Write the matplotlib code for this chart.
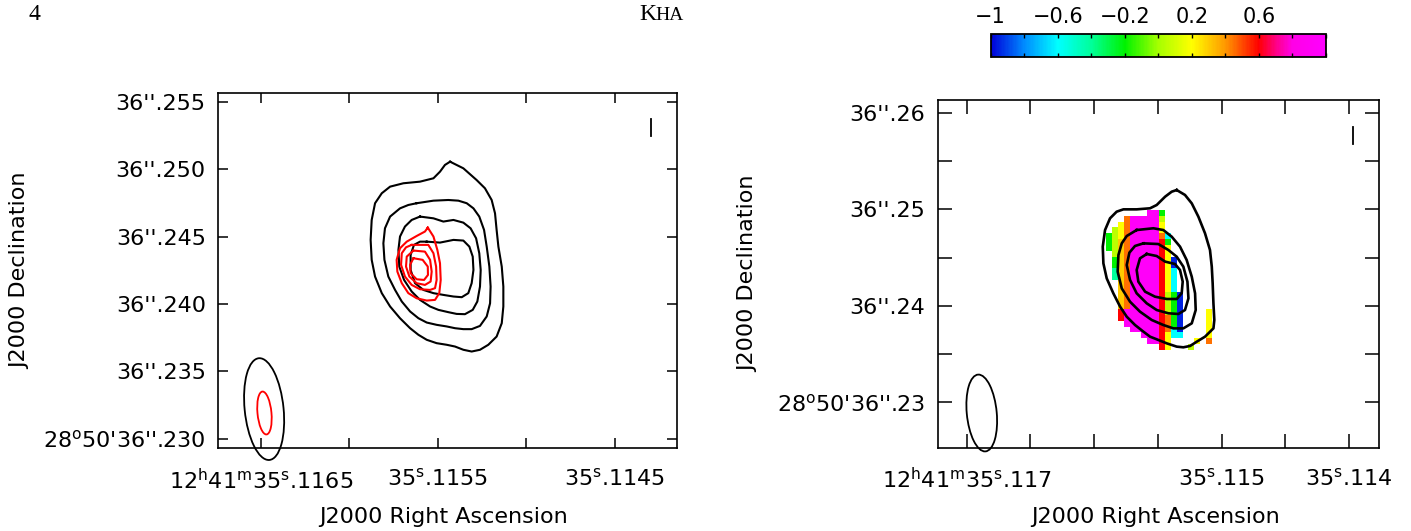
import numpy as np
import matplotlib
matplotlib.use('Agg')
from matplotlib import pyplot as plt
from matplotlib.patches import Ellipse
from matplotlib.colors import LinearSegmentedColormap
from matplotlib.ticker import FixedLocator, FixedFormatter, NullLocator

# positions: RA offset in units of 1e-4 s from 12h41m35.11s,
#            Dec offset in mas from +28d50'36.2"

# ---- left panel: black contours (outer -> inner)
left_black = [
    [(54.30, 50.55), (53.55, 50.06), (52.80, 49.19), (52.33, 48.58), (51.95, 47.71), (51.76, 46.72),
     (51.67, 45.49), (51.57, 44.25), (51.38, 42.77), (51.29, 41.29), (51.29, 39.81), (51.38, 38.57),
     (51.67, 37.58), (52.14, 36.97), (52.61, 36.60), (53.08, 36.47), (53.55, 36.60), (54.02, 36.84),
     (54.49, 36.97), (55.06, 37.09), (55.62, 37.34), (56.09, 37.71), (56.56, 38.20), (57.13, 38.94),
     (57.69, 39.81), (58.16, 40.80), (58.54, 42.03), (58.73, 43.27), (58.79, 44.75), (58.73, 46.23),
     (58.54, 47.47), (58.16, 48.21), (57.69, 48.70), (56.94, 48.95), (56.00, 49.07), (55.24, 49.32),
     (54.87, 49.81), (54.59, 50.31)],
    [(56.19, 47.47), (55.24, 47.66), (54.40, 47.71), (53.83, 47.66), (53.36, 47.47), (52.98, 47.09),
     (52.65, 46.48), (52.38, 45.49), (52.23, 44.25), (52.08, 42.77), (52.01, 41.29), (52.04, 40.05),
     (52.23, 39.07), (52.61, 38.37), (53.08, 38.13), (53.55, 38.13), (54.02, 38.20), (54.49, 38.33),
     (55.06, 38.45), (55.62, 38.62), (56.09, 38.94), (56.56, 39.44), (57.03, 40.18), (57.41, 41.04),
     (57.79, 42.03), (58.01, 43.27), (58.07, 44.50), (57.98, 45.61), (57.69, 46.48), (57.13, 47.09),
     (56.66, 47.34)],
    [(56.00, 46.48), (55.24, 46.35), (54.68, 46.11), (54.11, 46.23), (53.55, 46.03), (53.14, 45.61),
     (52.83, 44.87), (52.65, 43.76), (52.57, 42.52), (52.61, 41.29), (52.76, 40.18), (53.02, 39.56),
     (53.46, 39.24), (53.93, 39.26), (54.40, 39.39), (54.96, 39.56), (55.43, 39.81), (56.00, 40.30),
     (56.47, 40.92), (56.90, 41.78), (57.17, 42.77), (57.22, 44.01), (57.13, 45.00), (56.85, 45.74),
     (56.47, 46.23)],
    [(55.62, 44.62), (54.87, 44.55), (54.11, 44.75), (53.55, 44.70), (53.21, 44.25), (53.02, 43.51),
     (52.98, 42.52), (53.08, 41.54), (53.27, 40.80), (53.64, 40.50), (54.11, 40.55), (54.68, 40.67),
     (55.24, 40.80), (55.81, 41.04), (56.28, 41.54), (56.53, 42.52), (56.53, 43.64), (56.34, 44.38),
     (56.00, 44.62)],
]

# ---- left panel: red contours (outer -> inner)
left_red = [
    [(55.56, 45.66), (55.24, 45.00), (55.02, 44.01), (54.87, 43.02), (54.83, 41.78), (54.91, 40.80),
     (55.15, 40.30), (55.62, 40.25), (56.19, 40.42), (56.66, 40.80), (57.03, 41.54), (57.28, 42.40),
     (57.32, 43.27), (57.13, 44.13), (56.75, 44.62), (56.19, 45.04), (55.72, 45.37)],
    [(56.47, 44.38), (55.53, 44.38), (55.24, 43.76), (55.09, 42.77), (55.06, 41.78), (55.15, 41.17),
     (55.43, 41.04), (56.00, 41.09), (56.47, 41.41), (56.85, 42.03), (57.07, 42.90), (57.03, 43.76),
     (56.79, 44.20)],
    [(56.37, 43.96), (55.72, 43.88), (55.43, 43.27), (55.34, 42.40), (55.40, 41.66), (55.72, 41.41),
     (56.19, 41.54), (56.60, 42.03), (56.79, 42.77), (56.75, 43.51)],
    [(56.37, 43.39), (55.85, 43.27), (55.56, 42.77), (55.55, 42.15), (55.77, 41.78), (56.19, 41.83),
     (56.53, 42.28), (56.56, 42.90)],
]

# ---- right panel: black contours (outer -> inner)
right_black = [
    [(53.53, 51.99), (52.88, 51.48), (52.35, 50.61), (51.83, 49.23), (51.31, 47.51), (50.92, 45.78),
     (50.78, 44.06), (50.71, 42.33), (50.65, 40.26), (50.58, 38.54), (50.65, 37.67), (51.31, 36.81),
     (51.96, 36.29), (52.48, 35.85), (53.01, 35.71), (53.53, 35.78), (54.31, 36.12), (55.10, 36.54),
     (55.62, 36.81), (56.14, 37.33), (56.80, 38.02), (57.45, 38.88), (57.97, 39.92), (58.50, 41.30),
     (59.02, 42.85), (59.28, 44.40), (59.33, 46.13), (59.15, 47.85), (58.76, 49.06), (58.24, 49.75),
     (57.71, 49.99), (56.67, 49.99), (55.62, 50.10), (55.10, 50.44), (54.44, 51.30), (53.92, 51.82)],
    [(56.67, 47.85), (55.36, 48.03), (54.58, 47.85), (53.92, 47.16), (53.27, 46.13), (52.75, 44.75),
     (52.35, 43.02), (52.09, 41.30), (52.04, 39.57), (52.35, 38.19), (53.01, 37.67), (53.79, 37.67),
     (54.58, 38.02), (55.49, 38.54), (56.41, 39.40), (57.19, 40.43), (57.84, 41.81), (58.16, 43.54),
     (58.10, 45.27), (57.84, 46.47), (57.45, 47.23)],
    [(56.14, 46.47), (54.97, 46.40), (54.18, 45.78), (53.53, 45.09), (53.01, 44.06), (52.69, 42.51),
     (52.61, 40.78), (52.88, 39.57), (53.40, 39.16), (54.18, 39.23), (55.10, 39.57), (55.88, 40.26),
     (56.67, 41.30), (57.19, 42.68), (57.45, 44.23), (57.24, 45.51), (56.80, 46.20)],
    [(55.88, 45.37), (55.10, 45.16), (54.44, 44.58), (53.66, 44.33), (53.27, 43.71), (53.06, 42.51),
     (53.14, 41.30), (53.53, 40.71), (54.31, 40.71), (55.23, 40.95), (56.01, 41.47), (56.54, 42.51),
     (56.67, 43.71), (56.41, 44.92)],
]

# ---- right panel: colour image (spectral index), rows top -> bottom
pixel_codes = {'M': 0.95, 'R': 0.6, 'O': 0.45, 'y': 0.3, 'Y': 0.2, 'L': 0.05,
               'G': -0.2, 'T': -0.4, 'C': -0.6, 'B': -0.95}
pixel_rows = [
    ".......MMG........",
    "...OMMMMML........",
    "..YOMMMMMY........",
    ".LYOMMMMMY........",
    "GLYOMMMMMOC.......",
    "GLyOMMMMMRG.......",
    "GLyOMMMMMRY.......",
    ".LyOMMMMMRY.......",
    ".GyOMMMMMRYB......",
    ".GyOMMMMMRYB......",
    ".TyOMMMMMRYC......",
    ".TyOMMMMMRYC......",
    "..yOMMMMMRYC......",
    "..yOMMMMMRYC......",
    "..yOMMMMMRLGB.....",
    "..yOMMMMMRLGB.....",
    "..yOMMMMMRLGB.....",
    "..RMMMMMMRLGB....Y",
    "..RMMMMMMROGB....Y",
    "...MMMMMMROGB....Y",
    "....MMMMMROCB....Y",
    "......MMMRYCC....Y",
    ".......MMRY....Y.O",
    ".........RY...L...",
]
pixel_extent = (59.07, 50.82, 35.41, 49.82)

# beams: (ra, dec, width [ra units], height [mas], angle)
left_beam = (64.81, 32.20, 2.20, 7.57, -4.3)
left_red_beam = (64.79, 31.91, 0.79, 3.19, -4.0)
right_beam = (68.82, 28.91, 2.35, 7.97, -4.0)

# small bars in the top right corners
left_bar = (42.97, 52.48, 53.72)
right_bar = (39.68, 56.76, 58.52)

# axes ranges
left_xlim, left_ylim = (67.40, 41.46), (29.29, 55.62)
right_xlim, right_ylim = (72.27, 37.69), (25.32, 61.31)

# ticks
left_xticks = [65, 60, 55, 50, 45]
left_xlabels = ['12$^\\mathregular{h}$41$^\\mathregular{m}$35$^\\mathregular{s}$.1165', '',
                '35$^\\mathregular{s}$.1155', '', '35$^\\mathregular{s}$.1145']
left_yticks = [30, 35, 40, 45, 50, 55]
left_ylabels = ["28$^\\mathregular{o}$50'36''.230", "36''.235", "36''.240",
                "36''.245", "36''.250", "36''.255"]
right_xticks = [70, 65, 60, 55, 50, 45, 40]
right_xlabels = ['12$^\\mathregular{h}$41$^\\mathregular{m}$35$^\\mathregular{s}$.117', '', '', '',
                 '35$^\\mathregular{s}$.115', '', '35$^\\mathregular{s}$.114']
right_yticks = [30, 35, 40, 45, 50, 55, 60]
right_ylabels = ["28$^\\mathregular{o}$50'36''.23", '', "36''.24", '', "36''.25", '', "36''.26"]

cbar_ticks = [-1, -0.8, -0.6, -0.4, -0.2, 0, 0.2, 0.4, 0.6, 0.8, 1.0]
cbar_labels = ['\u22121', '', '\u22120.6', '', '\u22120.2', '', '0.2', '', '0.6', '', '']

cmap = LinearSegmentedColormap.from_list('spix', [
    (0.00, (0.0, 0.0, 0.85)), (0.10, (0.0, 0.55, 1.0)), (0.20, (0.0, 1.0, 1.0)),
    (0.30, (0.0, 1.0, 0.6)), (0.40, (0.0, 0.95, 0.0)), (0.50, (0.65, 1.0, 0.0)),
    (0.60, (1.0, 1.0, 0.0)), (0.70, (1.0, 0.6, 0.0)), (0.80, (1.0, 0.0, 0.0)),
    (0.85, (1.0, 0.0, 0.5)), (0.90, (1.0, 0.0, 0.9)), (1.00, (1.0, 0.0, 1.0))])

FS = 16
fig = plt.figure(figsize=(14.11, 5.31), dpi=100)


def style_axes(ax, xticks, xlabels, yticks, ylabels, first_tick, tick_len):
    ax.xaxis.set_major_locator(FixedLocator(xticks))
    ax.xaxis.set_major_formatter(FixedFormatter(xlabels))
    ax.yaxis.set_major_locator(FixedLocator(yticks))
    ax.yaxis.set_major_formatter(FixedFormatter(ylabels))
    ax.xaxis.set_minor_locator(FixedLocator([first_tick]))
    ax.yaxis.set_minor_locator(NullLocator())
    ax.tick_params(which='major', direction='in', top=True, right=True,
                   length=tick_len, width=1.1, labelsize=FS)
    ax.tick_params(which='major', axis='x', pad=14)
    ax.tick_params(which='major', axis='y', pad=9)
    ax.tick_params(which='minor', axis='x', direction='out', top=False,
                   length=tick_len, width=1.1)
    for s in ax.spines.values():
        s.set_linewidth(1.2)


def draw_contours(ax, contours, color, lw):
    for c in contours:
        arr = np.array(c + [c[0]])
        ax.plot(arr[:, 0], arr[:, 1], color=color, lw=lw)


def draw_beam(ax, beam, color, lw):
    e = Ellipse((beam[0], beam[1]), beam[2], beam[3], angle=beam[4],
                fill=False, edgecolor=color, lw=lw, clip_on=False)
    ax.add_patch(e)


# ---- left panel
ax1 = fig.add_axes([0.1547, 0.1557, 0.3253, 0.6685])
draw_contours(ax1, left_black, 'black', 1.5)
draw_contours(ax1, left_red, 'red', 1.5)
draw_beam(ax1, left_beam, 'black', 1.3)
draw_beam(ax1, left_red_beam, 'red', 1.3)
ax1.plot([left_bar[0], left_bar[0]], [left_bar[1], left_bar[2]], color='black', lw=1.3)
ax1.set_xlim(*left_xlim)
ax1.set_ylim(*left_ylim)
style_axes(ax1, left_xticks, left_xlabels, left_yticks, left_ylabels, 65, 7)
ax1.set_xlabel('J2000 Right Ascension', fontsize=FS)
ax1.set_ylabel('J2000 Declination', fontsize=FS)
ax1.xaxis.set_label_coords(0.49, -0.165)
ax1.yaxis.set_label_coords(-0.41, 0.5)

# ---- right panel
ax2 = fig.add_axes([0.6646, 0.1569, 0.3125, 0.6548])
grid = np.array([[pixel_codes.get(ch, np.nan) for ch in row] for row in pixel_rows])
img = ax2.imshow(grid, cmap=cmap, vmin=-1, vmax=1, extent=pixel_extent, origin='upper',
                 interpolation='nearest', aspect='auto', zorder=1)
draw_contours(ax2, right_black, 'black', 1.9)
draw_beam(ax2, right_beam, 'black', 1.3)
ax2.plot([right_bar[0], right_bar[0]], [right_bar[1], right_bar[2]], color='black', lw=1.3)
ax2.set_xlim(*right_xlim)
ax2.set_ylim(*right_ylim)
style_axes(ax2, right_xticks, right_xlabels, right_yticks, right_ylabels, 70, 10)
ax2.set_xlabel('J2000 Right Ascension', fontsize=FS)
ax2.set_ylabel('J2000 Declination', fontsize=FS)
ax2.xaxis.set_label_coords(0.495, -0.171)
ax2.yaxis.set_label_coords(-0.407, 0.5)

# ---- colour bar
cax = fig.add_axes([0.7021, 0.8932, 0.2376, 0.0422])
cb = fig.colorbar(img, cax=cax, orientation='horizontal')
cb.set_ticks(cbar_ticks)
cb.set_ticklabels(cbar_labels)
cax.xaxis.set_ticks_position('both')
cax.xaxis.set_label_position('top')
cax.tick_params(axis='x', direction='in', length=3, width=1, labeltop=True,
                labelbottom=False, labelsize=FS - 1, pad=5)
cb.outline.set_linewidth(1.3)

# ---- page header
fig.text(34 / 1411, 1 - 15 / 531, '4', fontsize=17, family='Liberation Serif',
         ha='center', va='center')
fig.text(639 / 1411, 1 - 15 / 531, 'K', fontsize=17, family='Liberation Serif',
         ha='left', va='center')
fig.text(655 / 1411, 1 - 16 / 531, 'HA', fontsize=14, family='Liberation Serif',
         ha='left', va='center')

fig.savefig('out.png', dpi=100)
